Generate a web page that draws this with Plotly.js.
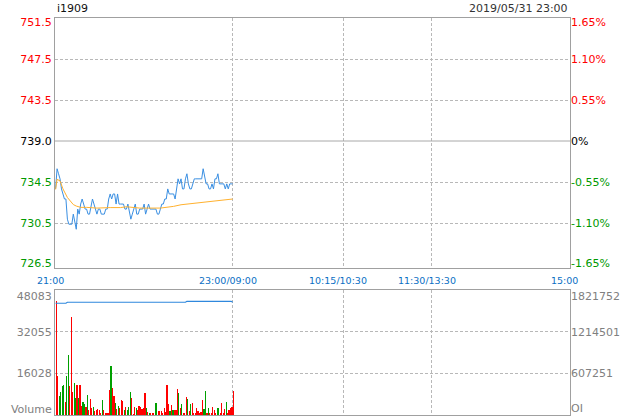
<!DOCTYPE html>
<html><head><meta charset="utf-8">
<script src="https://cdn.plot.ly/plotly-3.0.1.min.js"></script>
<style>html,body{margin:0;padding:0;background:#fff}#chart{width:620px;height:420px}</style>
</head><body><div id="chart"></div>
<script>
// ---------- data ----------
const symbol = 'i1909';
const stamp = '2019/05/31 23:00';
const basePrice = 739;
const bandPct = [1.65, 1.10, 0.55, 0, -0.55, -1.10, -1.65];
const priceLabels = ['751.5', '747.5', '743.5', '739.0', '734.5', '730.5', '726.5'];
const pctLabels = ['1.65%', '1.10%', '0.55%', '0%', '-0.55%', '-1.10%', '-1.65%'];
const timeLabels = ['21:00', '23:00/09:00', '10:15/10:30', '11:30/13:30', '15:00'];
const timeLabelMinutes = [0, 120, 195, 255, 345];
const sessionMinutes = 349;

// last price, one per minute from 21:00
const price = [
  734.25, 736.25, 735.75, 735.25, 734.25, 733.75, 733.25, 733.25, 731.25, 730.75,
  730.75, 730.75, 731.75, 730.75, 730.25, 732.25, 731.75, 732.75, 733.25, 732.75,
  732.25, 732.25, 731.75, 731.75, 732.75, 733.25, 732.75, 732.25, 731.75, 732.25,
  732.25, 731.75, 731.75, 731.75, 732.25, 732.25, 733.25, 733.75, 733.25, 733.75,
  733.75, 732.75, 733.75, 732.75, 732.75, 732.75, 732.75, 732.25, 732.25, 732.75,
  731.75, 731.25, 731.75, 732.25, 732.75, 731.75, 731.75, 732.25, 732.25, 732.25,
  732.75, 731.75, 732.25, 732.75, 732.25, 732.25, 732.25, 732.25, 732.25, 731.75,
  731.75, 732.25, 732.75, 732.75, 733.25, 733.25, 734.25, 733.75, 733.75, 733.75,
  733.75, 733.25, 734.25, 735.25, 734.75, 735.25, 734.25, 734.25, 735.25, 735.75,
  734.75, 734.25, 734.25, 734.75, 735.25, 735.25, 735.25, 735.25, 735.25, 735.25,
  736.25, 735.25, 734.75, 734.75, 734.25, 734.25, 734.75, 734.25, 735.25, 735.25,
  735.75, 734.75, 734.75, 734.75, 734.75, 734.25, 734.75, 734.25, 734.75, 734.75,
  734.75
];

// average price line (read at sampled minutes)
const avgMinutes = [0, 1, 3, 5, 8, 10, 12, 14, 17, 21, 28, 37, 44, 48, 53, 57, 71, 75, 80, 85, 89, 98, 107, 112, 120];
const avgPrice = [734.2, 735.2, 735.05, 734.25, 733.4, 733.1, 732.7, 732.55, 732.42, 732.42, 732.35, 732.4, 732.4, 732.48, 732.4, 732.35, 732.35, 732.4, 732.52, 732.68, 732.75, 732.92, 733.08, 733.15, 733.25];

// volume per minute and its direction (1 = red / up, -1 = green / down)
const volume = [
  44100, 14870, 7180, 8720, 11000, 11670, 5130, 15130, 22950, 11280,
  37950, 8720, 12440, 6670, 11670, 6670, 11670, 3590, 5130, 4360,
  2950, 7820, 1800, 6280, 2820, 3200, 1540, 2050, 2300, 2050,
  770, 5640, 2050, 770, 770, 770, 9740, 18970, 10510, 7180,
  4490, 2440, 3330, 2690, 5640, 5380, 2050, 3080, 2050, 2950,
  8970, 6670, 510, 3080, 2560, 2050, 3590, 3080, 2300, 2690,
  8590, 2820, 1280, 770, 770, 770, 770, 4490, 4740, 1670,
  1670, 1670, 770, 2820, 1280, 11670, 4360, 1670, 3970, 2050,
  2050, 2050, 10130, 8330, 2820, 4360, 770, 770, 7050, 6280,
  1670, 4360, 4740, 770, 770, 2820, 1670, 770, 1280, 5900,
  2440, 9360, 770, 2820, 770, 770, 3200, 2050, 770, 2820,
  2820, 770, 4620, 770, 2440, 5130, 770, 2050, 2820, 2950,
  9360
];
const volDir = [
  1, 1, -1, -1, -1, -1, 1, -1, -1, 1,
  1, 1, -1, -1, 1, -1, 1, 1, -1, -1,
  1, -1, 1, 1, 1, -1, 1, 1, 1, 1,
  1, -1, 1, 1, 1, 1, 1, -1, 1, 1,
  -1, 1, -1, 1, 1, 1, -1, 1, -1, -1,
  -1, 1, 1, 1, -1, 1, 1, 1, 1, 1,
  1, -1, 1, -1, 1, 1, 1, -1, -1, 1,
  1, 1, 1, 1, 1, 1, 1, -1, 1, -1,
  1, 1, 1, -1, 1, -1, 1, 1, 1, -1,
  1, -1, 1, 1, 1, 1, 1, 1, 1, 1,
  -1, -1, 1, -1, 1, 1, 1, 1, 1, -1,
  -1, 1, 1, 1, 1, -1, 1, 1, 1, 1,
  1
];
// open interest per minute
const openInterest = [
  1632300, 1632300, 1632300, 1632300, 1632300, 1632300, 1632300, 1632300, 1646900, 1646900,
  1646900, 1646900, 1646900, 1646900, 1646900, 1646900, 1646900, 1646900, 1646900, 1646900,
  1646900, 1646900, 1646900, 1646900, 1646900, 1646900, 1655000, 1655000, 1655000, 1646900,
  1646900, 1646900, 1646900, 1646900, 1646900, 1646900, 1646900, 1646900, 1646900, 1646900,
  1646900, 1646900, 1646900, 1646900, 1646900, 1646900, 1646900, 1646900, 1646900, 1646900,
  1646900, 1646900, 1646900, 1646900, 1646900, 1646900, 1646900, 1646900, 1646900, 1646900,
  1646900, 1646900, 1646900, 1646900, 1646900, 1646900, 1646900, 1646900, 1646900, 1646900,
  1646900, 1646900, 1646900, 1646900, 1646900, 1646900, 1646900, 1646900, 1646900, 1646900,
  1646900, 1646900, 1646900, 1646900, 1646900, 1646900, 1646900, 1646900, 1646900, 1661400,
  1661400, 1661400, 1661400, 1661400, 1661400, 1661400, 1661400, 1661400, 1661400, 1661400,
  1661400, 1661400, 1661400, 1661400, 1661400, 1661400, 1661400, 1661400, 1661400, 1661400,
  1661400, 1661400, 1661400, 1661400, 1661400, 1661400, 1661400, 1661400, 1661400, 1661400,
  1646900
];
const volTicks = [16028, 32055, 48083];
const volTickLabels = ['16028', '32055', '48083'];
const oiTicks = [607251, 1214501, 1821752];
const oiTickLabels = ['607251', '1214501', '1821752'];

// ---------- layout constants ----------
const W = 620, H = 420;
const mL = 55, mR = 50, mT = 18, mB = 5;
const plotH = H - mT - mB;
const pricePanel = [18, 268];     // pixel top/bottom
const volPanel = [290.3, 415];
const dom = (top, bot) => [(H - mB - bot) / plotH, (H - mB - top) / plotH];
const priceDom = dom(pricePanel[0], pricePanel[1]);
const volDom = dom(volPanel[0], volPanel[1]);

const gridVals = bandPct.map(p => basePrice * (1 + p / 100));
const hi = gridVals[0];
const pxPerUnit = 41 / (gridVals[0] - gridVals[1]);
const lo = hi - (pricePanel[1] - pricePanel[0]) / pxPerUnit;
const priceLabelVals = gridVals.slice();
priceLabelVals[0] = hi - 4 / pxPerUnit;
priceLabelVals[6] = gridVals[6] + 1 / pxPerUnit;

const RED = '#ff0000', GREEN = '#009900', BLACK = '#000000', GRAY = '#808080';
const colorFor = p => p > 0 ? RED : (p < 0 ? GREEN : BLACK);
const span = (t, c) => '<span style="color:' + c + '">' + t + '</span>';

const minutes = price.map((_, i) => i);
const volMax = volTicks[2];
const oiMax = oiTicks[2];
const volPx = volMax / (volPanel[1] - volPanel[0]);
const oiPx = oiMax / (volPanel[1] - volPanel[0]);

const FONT = 'DejaVu Sans, sans-serif';
const frame = '#a0a0a0';
const gridC = '#b8b8b8';
const dashed = '3px,2px';

const traces = [
  {x: minutes, y: price, type: 'scatter', mode: 'lines', xaxis: 'x', yaxis: 'y',
   line: {color: '#3a8fe2', width: 1}},
  {x: avgMinutes, y: avgPrice, type: 'scatter', mode: 'lines', xaxis: 'x', yaxis: 'y',
   line: {color: '#ffb12e', width: 1}},
  {x: minutes, y: price, type: 'scatter', mode: 'lines', xaxis: 'x', yaxis: 'y2',
   line: {width: 0}, opacity: 0, showlegend: false},
  {x: minutes, y: volume, type: 'bar', xaxis: 'x2', yaxis: 'y3',
   marker: {color: volDir.map(d => d > 0 ? RED : '#00a000'), line: {width: 0}},
   width: 0.8, offset: 0.15},
  {x: minutes, y: openInterest, type: 'scatter', mode: 'lines', xaxis: 'x2', yaxis: 'y4',
   line: {color: '#2f88dd', width: 1.2}}
];

const xBase = {
  range: [-0.4, sessionMinutes - 0.4], showgrid: false, zeroline: false,
  showticklabels: false, ticks: '', showline: true, mirror: true,
  linecolor: frame, linewidth: 1, fixedrange: true,
  minor: {tickmode: 'array', tickvals: timeLabelMinutes.slice(1, 4), showgrid: true,
          gridcolor: gridC, griddash: dashed, gridwidth: 1, ticks: ''}
};

const layout = {
  width: W, height: H,
  margin: {l: mL, r: mR, t: mT, b: mB, pad: 0},
  paper_bgcolor: '#ffffff', plot_bgcolor: '#ffffff',
  showlegend: false, hovermode: false, bargap: 0,
  font: {family: FONT, size: 11, color: '#333'},
  xaxis: Object.assign({}, xBase, {domain: [0, 1], anchor: 'y'}),
  xaxis2: Object.assign({}, xBase, {domain: [0, 1], anchor: 'y3'}),
  yaxis: {
    domain: priceDom, range: [lo, hi], fixedrange: true,
    showline: true, mirror: true, linecolor: frame, linewidth: 1,
    showgrid: false, zeroline: false, ticks: '',
    tickmode: 'array', tickvals: priceLabelVals,
    ticktext: priceLabels.map((t, i) => span(t, colorFor(bandPct[i]))),
    tickfont: {family: FONT, size: 11},
    minor: {tickmode: 'array', tickvals: [gridVals[1], gridVals[2], gridVals[4], gridVals[5]],
            showgrid: true, gridcolor: gridC, griddash: dashed, gridwidth: 1, ticks: ''}
  },
  yaxis2: {
    overlaying: 'y', side: 'right', anchor: 'x', range: [lo, hi], fixedrange: true,
    showgrid: false, zeroline: false, showline: false, ticks: '',
    tickmode: 'array', tickvals: priceLabelVals,
    ticktext: pctLabels.map((t, i) => span(t, colorFor(bandPct[i]))),
    tickfont: {family: FONT, size: 11}
  },
  yaxis3: {
    domain: volDom, range: [0, volMax], anchor: 'x2', fixedrange: true,
    showline: true, mirror: true, linecolor: frame, linewidth: 1,
    showgrid: false, zeroline: false, ticks: '',
    tickmode: 'array',
    tickvals: [6.3 * volPx, volTicks[0], volTicks[1], volMax - 5.4 * volPx],
    ticktext: ['Volume'].concat(volTickLabels),
    tickfont: {family: FONT, size: 11, color: GRAY},
    minor: {tickmode: 'array', tickvals: volTicks.slice(0, 2), showgrid: true,
            gridcolor: gridC, griddash: dashed, gridwidth: 1, ticks: ''}
  },
  yaxis4: {
    overlaying: 'y3', side: 'right', anchor: 'x2', range: [0, oiMax], fixedrange: true,
    showgrid: false, zeroline: false, showline: false, ticks: '',
    tickmode: 'array',
    tickvals: [7 * oiPx, oiTicks[0], oiTicks[1], oiMax - 5.4 * oiPx],
    ticktext: ['OI'].concat(oiTickLabels),
    tickfont: {family: FONT, size: 11, color: GRAY}
  },
  shapes: [
    {type: 'line', xref: 'paper', yref: 'y', x0: 0, x1: 1, y0: basePrice, y1: basePrice,
     line: {color: '#a8a8a8', width: 1}}
  ],
  annotations: [
    {text: symbol, xref: 'paper', yref: 'paper', x: 0, y: 1, xanchor: 'left', yanchor: 'middle',
     yshift: 9.7, showarrow: false, font: {family: FONT, size: 11, color: '#111'}},
    {text: stamp, xref: 'paper', yref: 'paper', x: 1, y: 1, xanchor: 'right', yanchor: 'middle',
     yshift: 9.7, showarrow: false, font: {family: FONT, size: 11, color: '#333'}}
  ].concat(timeLabels.map((t, i) => ({
    text: t, xref: 'x', yref: 'paper', x: timeLabelMinutes[i], y: priceDom[0],
    xanchor: 'center', yanchor: 'middle', yshift: -12.7,
    xshift: i === timeLabels.length - 1 ? 0 : -5,
    showarrow: false, font: {family: FONT, size: 9.5, color: '#0a6fc4'}
  })))
};

Plotly.newPlot('chart', traces, layout, {staticPlot: true, displayModeBar: false});
</script>
</body></html>
